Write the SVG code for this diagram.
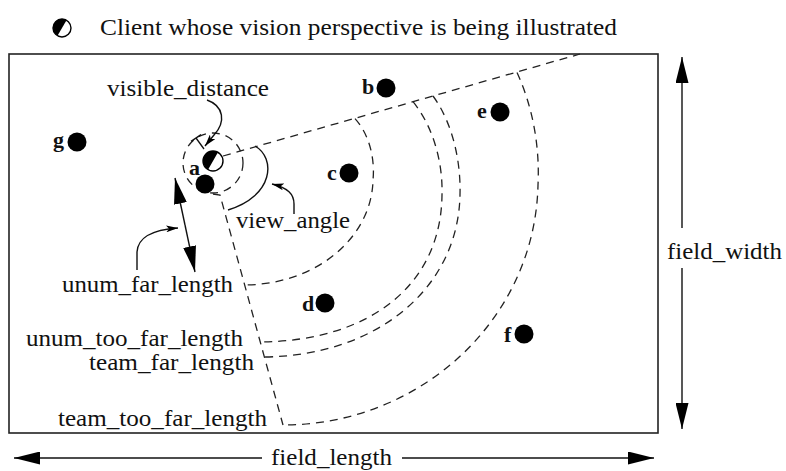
<svg xmlns="http://www.w3.org/2000/svg" width="786" height="471" viewBox="0 0 786 471">
<style>
text{font-family:"Liberation Serif","Times New Roman",serif;fill:#111;}
.lbl{font-size:24px;}
.pl{font-size:22px;font-weight:bold;}
.dash{fill:none;stroke:#222;stroke-width:1.3;stroke-dasharray:8 6;}
.solid{fill:none;stroke:#111;stroke-width:1.4;}
.dot{fill:#000;}
</style>
<defs>
<marker id="big" viewBox="0 0 26 13" refX="26" refY="6.5" markerWidth="26" markerHeight="13" markerUnits="userSpaceOnUse" orient="auto">
<path d="M0,0 L26,6.5 L0,13 Z" fill="#000"/>
</marker>
<marker id="ptr" viewBox="0 0 12 7" refX="12" refY="3.5" markerWidth="12" markerHeight="7" markerUnits="userSpaceOnUse" orient="auto">
<path d="M0,0 L12,3.5 L0,7 L3,3.5 Z" fill="#000"/>
</marker>
</defs>
<rect width="786" height="471" fill="#fff"/>

<g id="legend">
<circle cx="62" cy="28" r="9" fill="#fff" stroke="#000" stroke-width="1.4"/>
<path d="M66.5,20.2 A9 9 0 0 0 57.5,35.8 Z" fill="#000"/>
<text class="lbl" x="100" y="35" textLength="517" lengthAdjust="spacingAndGlyphs">Client whose vision perspective is being illustrated</text>
</g>

<g id="field">
<rect x="9" y="54" width="649" height="379" fill="none" stroke="#222" stroke-width="1.6"/>
</g>

<g id="vision">
<circle cx="213" cy="163" r="30" class="dash"/>
<path class="dash" d="M223,156 L580,54"/>
<path class="dash" d="M213,194 L220,195 L283,425"/>
<path class="dash" d="M355,118.6 C370,135 375,160 373,180 C372,235 320,284 245,285"/>
<path class="dash" d="M413,101.7 C432,125 443,160 442,195 C441,285 370,341 260,342"/>
<path class="dash" d="M433,96 C452,122 461,160 460,195 C458,290 375,356 264,357"/>
<path class="dash" d="M517,72.6 C532,105 540,145 538,185 C535,320 420,425 283,425"/>
<path class="solid" d="M255,146 C276,158 274,196 228,210"/>
<path d="M191,141.4 L201,134.6 M196,138 L204,149" fill="none" stroke="#111" stroke-width="1.3"/>
</g>

<g id="client">
<circle cx="213" cy="161" r="10" fill="#fff" stroke="#000" stroke-width="1.4"/>
<path d="M218,152.3 A10 10 0 0 0 208,169.7 Z" fill="#000"/>
</g>

<g id="player-a"><circle class="dot" cx="205" cy="184" r="9.5"/><text class="pl" x="189" y="175">a</text></g>
<g id="player-b"><circle class="dot" cx="386" cy="88" r="9.5"/><text class="pl" x="362" y="94">b</text></g>
<g id="player-c"><circle class="dot" cx="349" cy="173" r="9.5"/><text class="pl" x="327" y="180">c</text></g>
<g id="player-d"><circle class="dot" cx="325" cy="303" r="9.5"/><text class="pl" x="302" y="311">d</text></g>
<g id="player-e"><circle class="dot" cx="500" cy="112" r="9.5"/><text class="pl" x="477" y="118">e</text></g>
<g id="player-f"><circle class="dot" cx="524" cy="334" r="9.5"/><text class="pl" x="504" y="342">f</text></g>
<g id="player-g"><circle class="dot" cx="77" cy="142" r="9.5"/><text class="pl" x="53" y="147">g</text></g>

<g id="labels">
<text class="lbl" x="107" y="96" textLength="162" lengthAdjust="spacingAndGlyphs">visible_distance</text>
<text class="lbl" x="236" y="228" textLength="114" lengthAdjust="spacingAndGlyphs">view_angle</text>
<text class="lbl" x="62" y="292" textLength="171" lengthAdjust="spacingAndGlyphs">unum_far_length</text>
<text class="lbl" x="26" y="346" textLength="217" lengthAdjust="spacingAndGlyphs">unum_too_far_length</text>
<text class="lbl" x="89" y="370" textLength="165" lengthAdjust="spacingAndGlyphs">team_far_length</text>
<text class="lbl" x="58" y="426" textLength="209" lengthAdjust="spacingAndGlyphs">team_too_far_length</text>
<text class="lbl" x="271" y="465" textLength="121" lengthAdjust="spacingAndGlyphs">field_length</text>
<text class="lbl" x="667" y="259" textLength="115" lengthAdjust="spacingAndGlyphs">field_width</text>
</g>

<g id="connectors" fill="none" stroke="#111" stroke-width="1.4">
<path d="M207,100 C224,106 226,122 214,135 L205,146" marker-end="url(#ptr)"/>
<path d="M294,214 L294,204 C294,194 288,188 272,184" marker-end="url(#ptr)"/>
<path d="M137,270 L137,252 C138,238 150,230 178,228" marker-end="url(#ptr)"/>
<path d="M185,225 L175,178" marker-end="url(#big)"/>
<path d="M185,225 L195,272" marker-end="url(#big)"/>
<path d="M262,458 L14,458" marker-end="url(#big)"/>
<path d="M402,458 L654,458" marker-end="url(#big)"/>
<path d="M682,228 L682,57" marker-end="url(#big)"/>
<path d="M682,268 L682,429" marker-end="url(#big)"/>
</g>
</svg>
